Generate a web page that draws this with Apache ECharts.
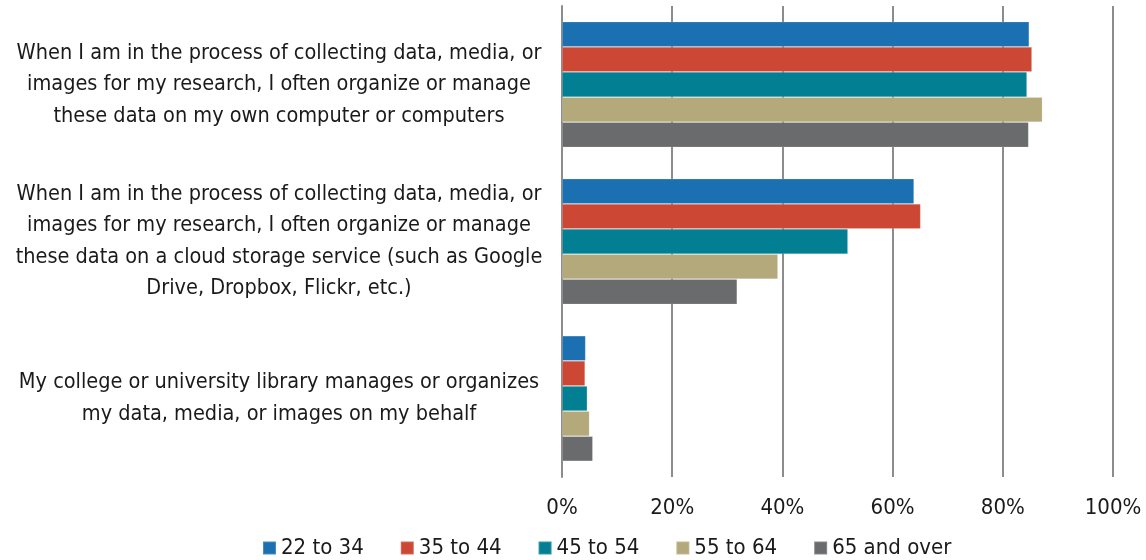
<!DOCTYPE html>
<html>
<head>
<meta charset="utf-8">
<script src="https://cdn.jsdelivr.net/npm/echarts@6/dist/echarts.min.js"></script>
<style>
html,body{margin:0;padding:0;background:#fff;}
#chart{width:1146px;height:560px;}
</style>
</head>
<body>
<div id="chart"></div>
<script>
const categories = [
  "When I am in the process of collecting data, media, or\nimages for my research, I often organize or manage\nthese data on my own computer or computers",
  "When I am in the process of collecting data, media, or\nimages for my research, I often organize or manage\nthese data on a cloud storage service (such as Google\nDrive, Dropbox, Flickr, etc.)",
  "My college or university library manages or organizes\nmy data, media, or images on my behalf"
];
const seriesNames = ["22 to 34", "35 to 44", "45 to 54", "55 to 64", "65 and over"];
const age22to34 = [84.8, 63.9, 4.3];
const age35to44 = [85.3, 65.1, 4.2];
const age45to54 = [84.4, 51.9, 4.6];
const age55to64 = [87.2, 39.2, 5.0];
const age65plus = [84.7, 31.8, 5.6];
const xTicks = [0, 20, 40, 60, 80, 100];

const colors = ["#1B70B1", "#CD4735", "#037F94", "#B4A97B", "#6A6B6D"];
const values = [age22to34, age35to44, age45to54, age55to64, age65plus];
const FONT = "'Liberation Sans Narrow', 'Arial Narrow', 'DejaVu Sans Condensed', sans-serif";

const chart = echarts.init(document.getElementById('chart'));
chart.setOption({
  animation: false,
  color: colors,
  textStyle: { fontFamily: FONT },
  grid: { left: 562, right: 33, top: 6, bottom: 83, containLabel: false },
  legend: {
    top: 532,
    left: 257,
    itemWidth: 13,
    itemHeight: 13,
    itemGap: 36,
    icon: 'rect',
    textStyle: { fontFamily: FONT, fontSize: 22, color: '#1a1a1a' },
    data: seriesNames
  },
  xAxis: {
    type: 'value',
    min: xTicks[0],
    max: xTicks[xTicks.length - 1],
    interval: 20,
    axisLine: { show: false },
    axisTick: { show: false },
    splitLine: { show: true, lineStyle: { color: '#8c8c8c', width: 2 } },
    axisLabel: {
      formatter: '{value}%',
      fontFamily: FONT,
      fontSize: 22,
      color: '#1a1a1a',
      margin: 20
    }
  },
  yAxis: {
    type: 'category',
    inverse: true,
    data: categories,
    axisLine: { show: true, lineStyle: { color: '#8c8c8c', width: 2 } },
    axisTick: { show: false },
    axisLabel: {
      fontFamily: FONT,
      fontSize: 21.5,
      lineHeight: 31.5,
      color: '#1a1a1a',
      align: 'center',
      margin: 283
    }
  },
  series: seriesNames.map((name, i) => ({
    name: name,
    type: 'bar',
    data: values[i],
    barGap: '0%',
    barCategoryGap: '20%',
    itemStyle: { color: colors[i], borderColor: 'rgba(255,255,255,0.2)', borderWidth: 0.8 }
  }))
});
</script>
</body>
</html>
